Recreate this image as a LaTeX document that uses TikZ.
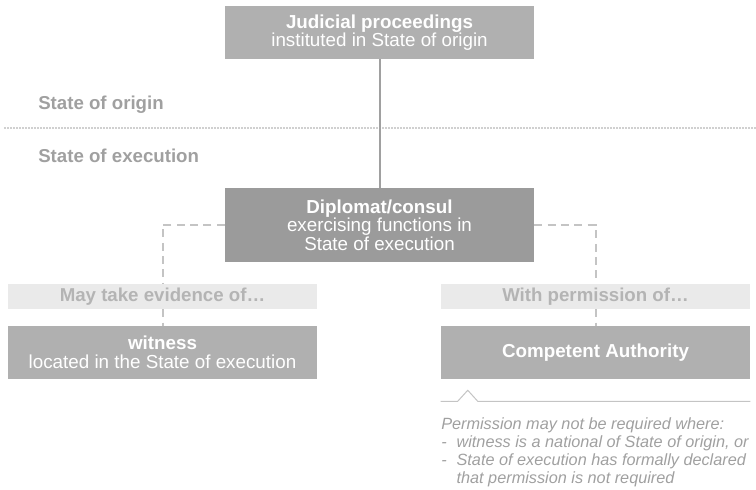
\documentclass[tikz,border=0pt]{standalone}
\usepackage{fontspec}
\setmainfont{Liberation Sans}
\usetikzlibrary{positioning}
\tikzset{>=latex}
\definecolor{boxgray}{HTML}{B0B0B0}
\definecolor{dipgray}{HTML}{9B9B9B}
\definecolor{taggray}{HTML}{EAEAEA}
\definecolor{tagtext}{HTML}{B4B4B4}
\definecolor{sidegray}{HTML}{A0A0A0}
\definecolor{linegray}{HTML}{C4C4C4}
\tikzset{
  box/.style={fill=boxgray, text=white, minimum width=231.75pt, inner sep=0pt, align=center, font=\fontsize{14.1}{14}\selectfont},
  tag/.style={fill=taggray, text=tagtext, minimum width=231.75pt, minimum height=18.75pt, inner sep=0pt, font=\fontsize{14}{13.5}\selectfont\bfseries},
  side/.style={anchor=base west, text=sidegray, inner sep=0pt, font=\fontsize{14}{14}\selectfont\bfseries},
  dashline/.style={draw=linegray, line width=1.5pt, dash pattern=on 6pt off 4pt},
}
\begin{document}
\begin{tikzpicture}[x=0.75pt,y=-0.75pt]
  \useasboundingbox (0,0) rectangle (756,489);
  % origin / execution
  \node[side] (s0) at (38,109) {State of origin};
  \node[side] (s1) at (38,162) {State of execution};
  \draw[draw=sidegray, line width=1.2pt, line cap=round, dash pattern=on 0pt off 2.25pt] (5,128) -- (756,128);
  % boxes
  \node[box, minimum height=39.75pt] (n0) at (379.5,32.5) {\textbf{Judicial proceedings}\\instituted in State of origin};
  \node[box, fill=dipgray, minimum height=55.5pt] (n1) at (379.5,225) {\textbf{Diplomat/consul}\\exercising functions in\\State of execution};
  \node[tag] (n2) at (162.5,296.5) {May take evidence of\dots};
  \node[tag] (n4) at (595.5,296.5) {With permission of\dots};
  \node[box, minimum height=39.75pt] (n3) at (162.5,352.5) {\textbf{witness}\\located in the State of execution};
  \node[box, minimum height=39.75pt] (n5) at (595.5,352.5) {\textbf{Competent Authority}};
  \node[anchor=north west, inner sep=0pt, align=left, text=sidegray, font=\fontsize{12.2}{13.5}\selectfont\itshape] (nx) at (441,417)
    {Permission may not be required where:\\
     \makebox[11.5pt][l]{-}witness is a national of State of origin, or\\
     \makebox[11.5pt][l]{-}State of execution has formally declared\\
     \makebox[11.5pt][l]{}that permission is not required};
  % connectors
  \draw[draw=sidegray, line width=1.5pt] (n0) -- (n1);
  \draw[dashline] (n1.west) -| (n2.north);
  \draw[dashline] (n2) -- (n3);
  \draw[dashline] (n1.east) -| (n4.north);
  \draw[dashline] (n4) -- (n5);
  \draw[draw=linegray, line width=0.75pt] ([yshift=-16.5pt]n5.south west) -- ++(12.75pt,0) -- ++(7.5pt,8.25pt) -- ++(7.5pt,-8.25pt) -- ([yshift=-16.5pt]n5.south east);
\end{tikzpicture}
\end{document}
